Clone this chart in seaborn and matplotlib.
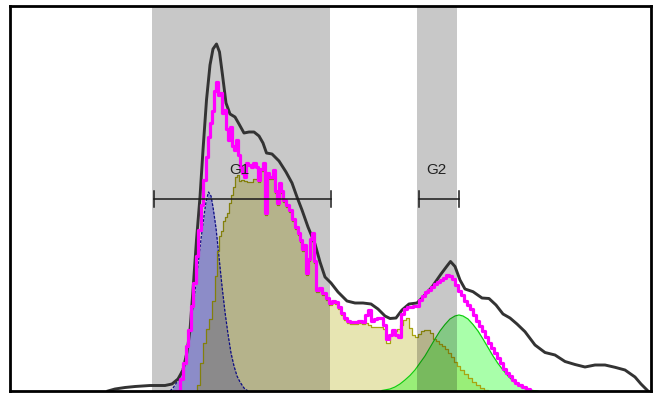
import matplotlib
matplotlib.use("Agg")
import matplotlib.pyplot as plt
import seaborn as sns

# DNA content histogram (channel vs. count) with cell-cycle model fit
black_ch = [98, 105, 115, 125, 140, 155, 162, 168, 173, 177, 180, 183, 186.5, 190, 193, 196.5, 200, 203,
            206.5, 209.5, 212.5, 216, 220, 225, 229, 234, 239, 244, 249, 253, 256.5, 262, 269, 276, 282,
            287, 292, 298, 305, 310, 315, 321, 328, 337, 345, 353, 361, 368, 375, 380, 386, 392, 399, 407,
            413, 422, 431, 437, 440.5, 445, 450, 455, 463, 472, 479, 486, 493, 500, 507, 515, 525, 535,
            545, 555, 565, 575, 585, 595, 605, 615, 625, 631, 635, 638]
black_ct = [0, 2, 3.5, 4.5, 5.5, 5.5, 7, 12, 21, 39, 61, 101, 151, 194, 241, 291, 326, 342,
            347, 339, 316, 288, 277, 274, 267, 258, 259, 259, 255, 248, 238, 237, 230, 219, 208,
            194, 181, 164, 147, 129, 114, 108, 99, 90, 88, 88, 87, 82, 75, 72.5, 73, 81, 87, 88,
            94, 104, 117, 125, 129.5, 124.5, 111, 102, 99.3, 93, 92.5, 86, 77, 73, 67, 59.3, 46, 38.5,
            36, 29.5, 26.5, 24, 26, 26, 23.7, 21, 14, 7, 3, 0]

# model total (stepped)
fit_ch = [166, 170, 173, 176, 178, 181, 183, 186, 188, 191, 193, 196, 198, 200, 202, 204, 206, 208, 210,
          212, 214, 216, 218, 220, 222, 224, 226, 228, 230, 232, 234, 236, 238, 241, 243, 246, 248, 250,
          253, 255, 257, 259, 261, 263, 265, 267, 269, 271, 273, 276, 279, 282, 285, 288, 290, 292, 294,
          296, 298, 300, 302, 304, 306, 309, 312, 316, 319, 322, 325, 328, 331, 334, 337, 340, 344, 348,
          352, 355, 358, 361, 364, 367, 370, 373, 376, 379, 382, 385, 388, 391, 394, 397, 400, 403, 406,
          409, 412, 415, 418, 421, 424, 427, 430, 433, 436, 439, 442, 445, 448, 451, 454, 457, 460, 463,
          466, 469, 472, 475, 478, 481, 484, 487, 490, 493, 496, 499, 502, 505, 508, 512, 516, 520]
fit_ct = [0, 12, 28, 45, 61, 85, 108, 135, 161, 186, 211, 234, 254, 268, 280, 300, 309, 296, 298,
          278, 281, 262, 251, 264, 245, 241, 251, 236, 224, 218, 214, 228, 226, 224, 228, 224, 211, 222,
          228, 178, 218, 214, 214, 221, 200, 188, 208, 200, 191, 186, 181, 172, 164, 158, 151, 142, 146,
          118, 132, 152, 158, 130, 101, 103, 98, 93, 88, 90, 89, 84, 78, 73, 70, 69, 69, 70,
          69, 76, 81, 70, 72, 73, 73, 66, 52, 56, 61, 56, 54, 77, 82, 84, 84, 85, 85,
          91, 95, 99, 101, 104, 107, 109, 111, 113, 116, 115, 112, 106, 100, 96, 90, 86, 82, 76,
          70, 65, 60, 54, 48, 43, 38, 33, 28, 22, 18, 15, 11, 8, 6, 4, 2, 0]

# G0/G1 component
g1_ch = [160, 163, 167, 170, 173, 176, 179, 182, 185, 188, 191, 194, 196, 198.5, 201, 203, 206, 209,
         212, 215, 218, 221, 224, 227, 230, 234, 238]
g1_ct = [0, 3, 9, 15, 24, 37, 54, 76, 100, 126, 152, 175, 189, 199, 195, 184, 163, 134,
         105, 79, 57, 38, 25, 15, 9, 3, 0]

# S-phase component
s_ch = [184, 187, 190, 193, 196, 199, 202, 205, 207, 209, 211, 213, 215, 217, 219, 221, 223, 225, 227,
        229, 231, 234, 237, 240, 243, 246, 248, 250, 253, 255, 257, 259, 261, 263, 265, 267, 269, 271,
        273, 276, 279, 282, 285, 288, 290, 292, 294, 296, 298, 300, 302, 304, 306, 309, 312, 316, 319,
        322, 325, 328, 331, 334, 337, 340, 344, 348, 352, 355, 358, 361, 364, 367, 370, 373, 376, 380,
        384, 387, 390, 393, 396, 399, 402, 405, 408, 411, 414, 417, 420, 423, 426, 429, 432, 435, 438,
        441, 444, 447, 450, 454, 458, 462, 466, 470, 474, 478]
s_ct = [0, 6, 28, 48, 62, 72, 90, 115, 140, 155, 160, 170, 174, 178, 188, 196, 204, 214, 216,
        210, 211, 210, 209, 209, 212, 212, 209, 220, 226, 176, 216, 212, 212, 219, 198, 186, 206, 198,
        189, 184, 179, 170, 162, 156, 149, 140, 144, 116, 130, 150, 156, 128, 99, 101, 96, 91, 86,
        88, 87, 82, 76, 71, 68, 67, 67, 68, 67, 68, 66, 64, 64, 64, 64, 62, 48, 57,
        60, 62, 66, 71, 73, 63, 56, 54, 57, 60, 61, 61, 58, 52, 50, 47, 45, 42, 38,
        34, 29, 25, 21, 17, 13, 9, 6, 3, 1, 0]

# G2/M component
g2_ch = [372, 380, 385, 390, 395, 400, 405, 410, 415, 420, 425, 430, 435, 440, 445, 449, 453, 458,
         463, 468, 473, 478, 483, 488, 493, 498, 503, 508, 513, 518, 523, 528]
g2_ct = [0.5, 2, 4, 7, 11, 15.5, 21, 28, 35, 43.5, 52, 60, 66.5, 72, 75, 76, 75, 72,
         66.5, 60, 52, 43.5, 35, 27.5, 21, 15, 10, 6, 3, 1.5, 0.5, 0]

# gated regions
gate_names = ["G1", "G2"]
shade_lo = [141.5, 406.7]
shade_hi = [319.5, 446.7]
marker_lo = [143.5, 409.3]
marker_hi = [320.5, 449.3]
marker_level = 192

fig = plt.figure(figsize=(6.59, 3.93), dpi=100)
ax = fig.add_axes([10 / 659, 2 / 393, 641 / 659, 385 / 393])

# component fills
ax.fill_between(g1_ch, g1_ct, color=(179 / 255, 179 / 255, 1.0), lw=0, zorder=1.0)
ax.fill_between(s_ch, s_ct, step="post", color=(178 / 255, 172 / 255, 0.0), alpha=0.3, lw=0, zorder=1.1)
ax.fill_between(g2_ch, g2_ct, color=(0.04, 1.0, 0.05), alpha=0.35, lw=0, zorder=1.2)

sns.lineplot(x=g1_ch, y=g1_ct, ax=ax, color="#1010a8", lw=0.9, linestyle=(0, (2.2, 1.2)),
             estimator=None, sort=False, zorder=1.5)
sns.lineplot(x=s_ch, y=s_ct, ax=ax, color="#a8a410", lw=0.9, drawstyle="steps-post",
             estimator=None, sort=False, zorder=1.5)
sns.lineplot(x=g2_ch, y=g2_ct, ax=ax, color="#10d010", lw=0.9,
             estimator=None, sort=False, zorder=1.5)

# gate shading
for lo, hi in zip(shade_lo, shade_hi):
    ax.axvspan(lo, hi, color="black", alpha=0.216, lw=0, zorder=2)

# measured histogram and model total
sns.lineplot(x=black_ch, y=black_ct, ax=ax, color="#333333", lw=2.1,
             estimator=None, sort=False, zorder=3)
sns.lineplot(x=fit_ch, y=fit_ct, ax=ax, color="#ff00ff", lw=2.3, drawstyle="steps-post",
             estimator=None, sort=False, zorder=3.1)

# gate markers and labels
for name, lo, hi in zip(gate_names, marker_lo, marker_hi):
    ax.plot([lo, hi], [marker_level, marker_level], color="#1a1a1a", lw=1.1, zorder=4)
    ax.plot([lo, lo], [marker_level - 8, marker_level + 8], color="#1a1a1a", lw=1.1, zorder=4)
    ax.plot([hi, hi], [marker_level - 8, marker_level + 8], color="#1a1a1a", lw=1.1, zorder=4)
    ax.text((lo + hi) / 2 - 3, marker_level + 28.5, name, ha="center", va="center",
            fontsize=11, color="#222222", family=["Liberation Sans", "DejaVu Sans"], zorder=4.5)

ax.set_xlim(0, 641)
ax.set_ylim(0, 385)
ax.set_xticks([])
ax.set_yticks([])
ax.set_xlabel("")
ax.set_ylabel("")
for sp in ax.spines.values():
    sp.set_linewidth(2)
    sp.set_color("black")
    sp.set_zorder(5)

fig.savefig("out.png", dpi=100, facecolor="white")
